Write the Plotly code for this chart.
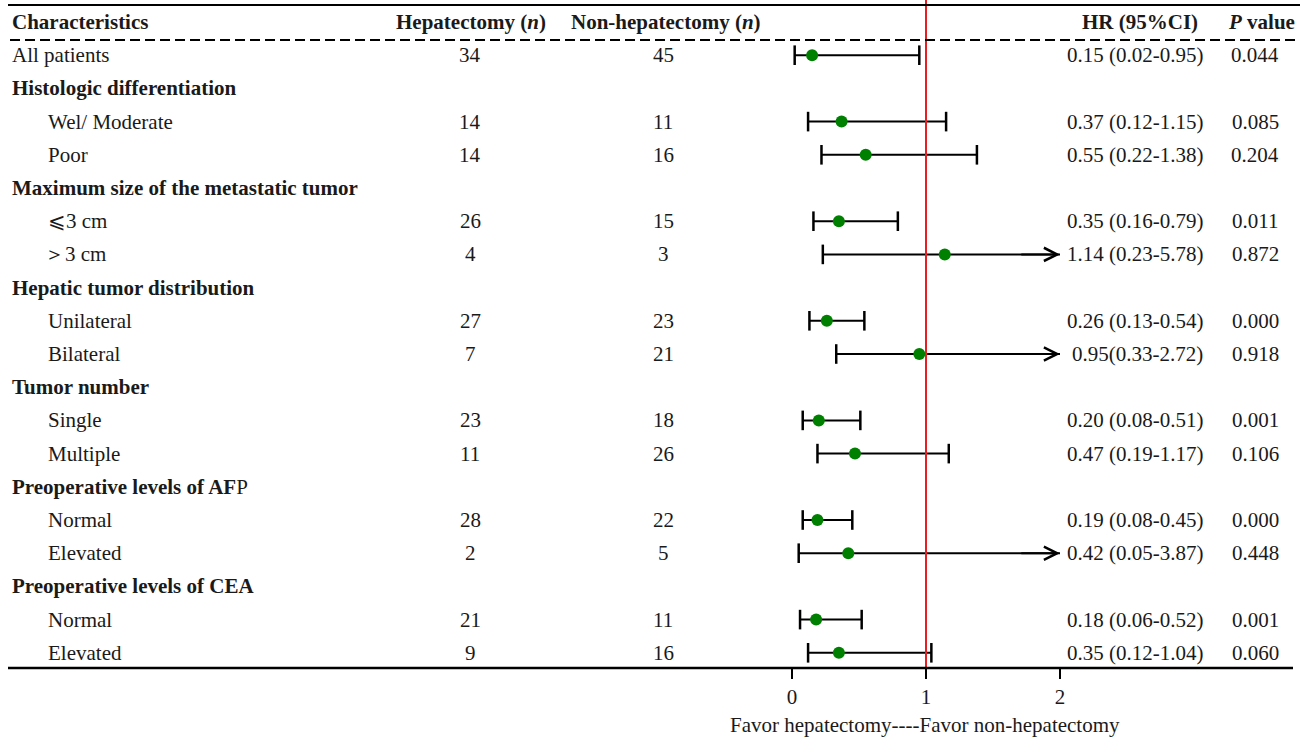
import plotly.graph_objects as go

# ---------------- data ----------------
categories = ["All patients", "Histologic differentiation", "Wel/ Moderate", "Poor",
              "Maximum size of the metastatic tumor", "⩽3 cm", "＞3 cm",
              "Hepatic tumor distribution", "Unilateral", "Bilateral",
              "Tumor number", "Single", "Multiple",
              "Preoperative levels of AFP", "Normal", "Elevated",
              "Preoperative levels of CEA", "Normal", "Elevated"]
is_group = [False, True, False, False, True, False, False, True, False, False,
            True, False, False, True, False, False, True, False, False]
hep_n = [34, None, 14, 14, None, 26, 4, None, 27, 7, None, 23, 11, None, 28, 2, None, 21, 9]
nonhep_n = [45, None, 11, 16, None, 15, 3, None, 23, 21, None, 18, 26, None, 22, 5, None, 11, 16]
hr = [0.15, None, 0.37, 0.55, None, 0.35, 1.14, None, 0.26, 0.95, None, 0.20, 0.47,
      None, 0.19, 0.42, None, 0.18, 0.35]
ci_low = [0.02, None, 0.12, 0.22, None, 0.16, 0.23, None, 0.13, 0.33, None, 0.08, 0.19,
          None, 0.08, 0.05, None, 0.06, 0.12]
ci_high = [0.95, None, 1.15, 1.38, None, 0.79, 5.78, None, 0.54, 2.72, None, 0.51, 1.17,
           None, 0.45, 3.87, None, 0.52, 1.04]
hr_text = ["0.15 (0.02-0.95)", "", "0.37 (0.12-1.15)", "0.55 (0.22-1.38)", "",
           "0.35 (0.16-0.79)", "1.14 (0.23-5.78)", "", "0.26 (0.13-0.54)", "0.95(0.33-2.72)",
           "", "0.20 (0.08-0.51)", "0.47 (0.19-1.17)", "", "0.19 (0.08-0.45)",
           "0.42 (0.05-3.87)", "", "0.18 (0.06-0.52)", "0.35 (0.12-1.04)"]
p_values = ["0.044", "", "0.085", "0.204", "", "0.011", "0.872", "", "0.000", "0.918",
            "", "0.001", "0.106", "", "0.000", "0.448", "", "0.001", "0.060"]
x_ticks = [0, 1, 2]
ref_hr = 1
x_clip = 2
axis_title = "Favor hepatectomy----Favor non-hepatectomy"

# ---------------- layout constants ----------------
W, H = 1300, 739
B = 71
PH = H - B            # plot height in px
x0px, unit = 792, 134  # px of x=0, px per unit
row0, step = 22, 33.2  # px of header row, px per row
FONT = "Liberation Serif, Times New Roman, serif"
FS = 21
TXT = "#1a1a1a"

def py(px):  # pixel y (from top) -> paper
    return 1 - px / PH

rows = list(range(1, len(categories) + 1))
y_top = -row0 / step
y_bot = (PH - row0) / step

fig = go.Figure()

# whiskers
wx, wy = [], []
capx, capy = [], []
arrows = []
for r, lo, hi in zip(rows, ci_low, ci_high):
    if lo is None:
        continue
    wx += [lo, min(hi, x_clip), None]
    wy += [r, r, None]
    capx.append(lo); capy.append(r)
    if hi <= x_clip:
        capx.append(hi); capy.append(r)
    else:
        arrows.append(r)

fig.add_trace(go.Scatter(x=wx, y=wy, mode="lines", line=dict(color="black", width=2),
                         hoverinfo="skip", showlegend=False))
fig.add_trace(go.Scatter(x=capx, y=capy, mode="markers",
                         marker=dict(symbol="line-ns", size=14, line=dict(color="black", width=2.5)),
                         hoverinfo="skip", showlegend=False))
# reference line
fig.add_trace(go.Scatter(x=[ref_hr, ref_hr], y=[y_top, y_bot], mode="lines",
                         line=dict(color="rgb(232,30,35)", width=2),
                         hoverinfo="skip", showlegend=False))
# points
pr = [r for r, v in zip(rows, hr) if v is not None]
pv = [v for v in hr if v is not None]
fig.add_trace(go.Scatter(x=pv, y=pr, mode="markers",
                         marker=dict(color="rgb(0,128,0)", size=12),
                         hoverinfo="skip", showlegend=False))

ann = []
for r in arrows:
    ann.append(dict(x=x_clip, y=r, ax=x_clip - 0.3, ay=r, xref="x", yref="y",
                    axref="x", ayref="y", showarrow=True, arrowhead=5, arrowsize=1.3,
                    arrowwidth=2, arrowcolor="black", standoff=0, text=""))

def t(text, xpx, r, anchor):
    ann.append(dict(x=xpx / W, y=r, xref="paper", yref="y", text=text, showarrow=False,
                    xanchor=anchor, yanchor="middle",
                    font=dict(family=FONT, size=FS, color=TXT)))

# header
t("<b>Characteristics</b>", 10, 0, "left")
t("<b>Hepatectomy (<i>n</i>)</b>", 471, 0, "center")
t("<b>Non-hepatectomy (<i>n</i>)</b>", 666, 0, "center")
t("<b>HR (95%CI)</b>", 1140, 0, "center")
t("<b><i>P</i> value</b>", 1261, 0, "center")

for r, lab, g, a, b, h, p in zip(rows, categories, is_group, hep_n, nonhep_n, hr_text, p_values):
    if g:
        if lab.endswith("AFP"):
            t("<b>" + lab[:-1] + "</b>" + lab[-1], 10, r, "left")
        else:
            t("<b>" + lab + "</b>", 10, r, "left")
        continue
    indent = 10 if r == 1 else 46
    if lab.startswith("＞"):
        indent = 42
    t(lab, indent, r, "left")
    t(str(a), 470, r, "center")
    t(str(b), 663, r, "center")
    t(h, 1205, r, "right")
    t(p, 1255, r, "center")

ann.append(dict(x=925 / W, y=py(725), xref="paper", yref="paper", text=axis_title,
                showarrow=False, xanchor="center", yanchor="middle",
                font=dict(family=FONT, size=FS, color=TXT)))

shapes = [
    dict(type="line", xref="paper", yref="paper", x0=8 / W, x1=1.0, y0=py(5), y1=py(5),
         line=dict(color="black", width=2)),
    dict(type="line", xref="paper", yref="paper", x0=10 / W, x1=1.0, y0=py(40), y1=py(40),
         line=dict(color="black", width=2, dash="10px,5px")),
    dict(type="line", xref="paper", yref="paper", x0=8 / W, x1=1293 / W, y0=0, y1=0,
         line=dict(color="black", width=2.5)),
]

fig.update_layout(
    width=W, height=H, margin=dict(l=0, r=0, t=0, b=B),
    paper_bgcolor="white", plot_bgcolor="white",
    showlegend=False, annotations=ann, shapes=shapes,
    xaxis=dict(range=[-x0px / unit, (W - x0px) / unit], tickvals=x_ticks,
               ticktext=[str(v) for v in x_ticks], ticks="outside", ticklen=10,
               tickwidth=2, tickcolor="black", showgrid=False, zeroline=False,
               showline=False, tickfont=dict(family=FONT, size=FS, color=TXT),
               fixedrange=True),
    yaxis=dict(range=[y_bot, y_top], visible=False,
               showgrid=False, zeroline=False, fixedrange=True),
)

fig.write_html("out.html", config={"displayModeBar": False},
               post_script="document.body.style.margin='0';document.body.style.overflow='hidden';")
